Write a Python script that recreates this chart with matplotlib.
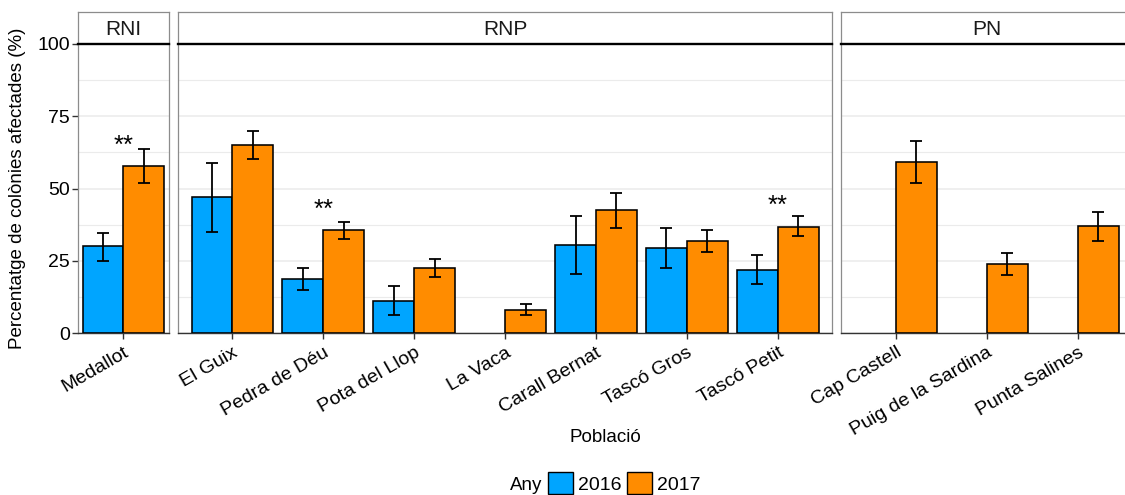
import numpy as np
import matplotlib
matplotlib.use("Agg")
import matplotlib.pyplot as plt
from matplotlib.patches import Patch

# ---------------- data ----------------
groups = ["RNI", "RNP", "PN"]
populations = {
    "RNI": ["Medallot"],
    "RNP": ["El Guix", "Pedra de Déu", "Pota del Llop", "La Vaca",
            "Carall Bernat", "Tascó Gros", "Tascó Petit"],
    "PN": ["Cap Castell", "Puig de la Sardina", "Punta Salines"],
}
mean_2016 = {
    "RNI": [30.0],
    "RNP": [47.0, 18.6, 11.2, np.nan, 30.6, 29.3, 21.8],
    "PN": [np.nan, np.nan, np.nan],
}
low_2016 = {
    "RNI": [24.8],
    "RNP": [34.8, 14.9, 6.2, np.nan, 20.5, 22.4, 16.8],
    "PN": [np.nan, np.nan, np.nan],
}
high_2016 = {
    "RNI": [34.7],
    "RNP": [58.7, 22.4, 16.3, np.nan, 40.6, 36.2, 26.9],
    "PN": [np.nan, np.nan, np.nan],
}
mean_2017 = {
    "RNI": [57.8],
    "RNP": [65.1, 35.5, 22.6, 7.8, 42.6, 31.7, 36.8],
    "PN": [59.2, 23.9, 36.9],
}
low_2017 = {
    "RNI": [52.0],
    "RNP": [60.3, 32.5, 19.3, 6.1, 36.4, 27.9, 33.5],
    "PN": [51.9, 20.2, 31.8],
}
high_2017 = {
    "RNI": [63.6],
    "RNP": [69.9, 38.5, 25.7, 10.0, 48.5, 35.6, 40.5],
    "PN": [66.3, 27.8, 41.9],
}
# significance labels: (group, population, label, y)
stars = [("RNI", "Medallot", "**", 62.5),
         ("RNP", "Pedra de Déu", "**", 40.3),
         ("RNP", "Tascó Petit", "**", 41.7)]
years = ["2016", "2017"]
colors = {"2016": "#00A5FF", "2017": "#FF8C00"}

# ---------------- layout ----------------
plt.rcParams["font.family"] = ["Liberation Sans", "DejaVu Sans"]
W, H = 1125, 495
fig = plt.figure(figsize=(W / 100, H / 100), dpi=100)

def rect(left, top, width, height):
    return [left / W, 1 - (top + height) / H, width / W, height / H]

unit = 90.9
gap = 9
panel_top, panel_bot = 44, 333
strip_top = 12
left = 78
bw = 0.45
grid_col = "#EBEBEB"
border_col = "#8C8C8C"
dark = "#333333"

for gi, g in enumerate(groups):
    cats = populations[g]
    n = len(cats)
    if n == 1:
        lo, hi = -0.5, 0.5
    else:
        lo, hi = -0.6, n - 1 + 0.6
    width_px = (hi - lo) * unit
    sax = fig.add_axes(rect(left, strip_top, width_px, panel_top - strip_top))
    ax = fig.add_axes(rect(left, panel_top, width_px, panel_bot - panel_top))
    left += width_px + gap

    x = np.arange(n)
    for yr, off, m, l, h in [("2016", -bw / 2, mean_2016[g], low_2016[g], high_2016[g]),
                             ("2017", bw / 2, mean_2017[g], low_2017[g], high_2017[g])]:
        m = np.array(m, float); l = np.array(l, float); h = np.array(h, float)
        ok = ~np.isnan(m)
        ax.bar(x[ok] + off, m[ok], width=bw, color=colors[yr], edgecolor="black",
               linewidth=1.15, zorder=3)
        ax.errorbar(x[ok] + off, m[ok], yerr=[m[ok] - l[ok], h[ok] - m[ok]],
                    fmt="none", ecolor="black", elinewidth=1.3, capsize=4,
                    capthick=1.3, zorder=4)
    for sg, pop, lab, sy in stars:
        if sg == g:
            ax.text(cats.index(pop), sy, lab, ha="center", va="baseline",
                    fontsize=18.5, zorder=5)

    ax.set_xlim(lo, hi)
    ax.set_ylim(0, 100)
    ax.set_yticks([0, 25, 50, 75, 100])
    ax.set_yticks([12.5, 37.5, 62.5, 87.5], minor=True)
    ax.grid(True, which="major", axis="y", color=grid_col, linewidth=1.1, zorder=0)
    ax.grid(True, which="minor", axis="y", color=grid_col, linewidth=0.8, zorder=0)
    ax.set_axisbelow(True)
    ax.set_xticks(x)
    ax.set_xticklabels(cats, rotation=30, ha="right", va="top",
                       rotation_mode="anchor", fontsize=14, color="black")
    ax.tick_params(axis="x", length=4, width=1, color=dark, pad=4)
    ax.tick_params(axis="y", which="minor", length=0)
    if gi == 0:
        ax.set_yticklabels(["0", "25", "50", "75", "100"], fontsize=14, color="black")
        ax.tick_params(axis="y", which="major", length=4, width=1, color=dark, pad=2)
    else:
        ax.set_yticklabels([])
        ax.tick_params(axis="y", which="major", length=0)
    for s in ["left", "right"]:
        ax.spines[s].set_color(border_col)
        ax.spines[s].set_linewidth(0.9)
    ax.spines["top"].set_color("black")
    ax.spines["top"].set_linewidth(1.7)
    ax.spines["bottom"].set_color(dark)
    ax.spines["bottom"].set_linewidth(1.0)

    # strip
    sax.set_xticks([]); sax.set_yticks([])
    sax.set_facecolor("white")
    for s in sax.spines.values():
        s.set_color(border_col)
        s.set_linewidth(0.9)
    sax.spines["bottom"].set_visible(False)
    sax.text(0.5, 0.45, g, ha="center", va="center", fontsize=15,
             color="#1A1A1A", transform=sax.transAxes)

# axis titles
fig.text(605 / W, 1 - 437 / H, "Població", ha="center", va="center", fontsize=13.5)
fig.text(18 / W, 1 - 188 / H, "Percentatge de colònies afectades (%)",
         rotation=90, ha="center", va="center", fontsize=13.5)

# legend
fig.text(542 / W, 1 - 485 / H, "Any", ha="right", va="center", fontsize=13.5)
handles = [Patch(facecolor=colors[y], edgecolor="black", linewidth=1.0, label=y)
           for y in years]
fig.legend(handles=handles, loc="center left", bbox_to_anchor=(548 / W, 1 - 483 / H),
           ncol=2, frameon=False, fontsize=14, handlelength=1.3, handleheight=1.3,
           handletextpad=0.25, columnspacing=0.25, borderpad=0, borderaxespad=0)

fig.savefig("out.png", dpi=100)
